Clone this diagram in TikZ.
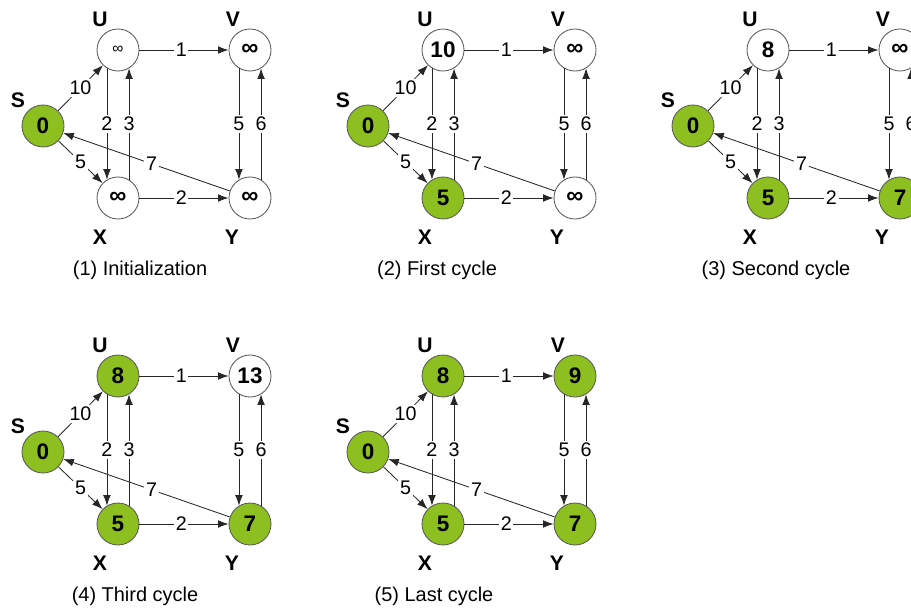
\documentclass[tikz,border=0pt]{standalone}
\usepackage{fontspec}
\setmainfont{Liberation Sans}
\usetikzlibrary{arrows.meta,calc}
\definecolor{vgreen}{RGB}{141,191,32}
\newcommand{\infsym}{{\fontsize{17}{18}\selectfont ∞}}
\newcommand{\infthin}{{\mdseries\fontsize{11}{12}\selectfont ∞}}
\tikzset{
  vert/.style={circle,draw=black!65,line width=0.6pt,minimum size=1.05cm,inner sep=0pt,font=\fontsize{16}{18}\selectfont\bfseries},
  vname/.style={font=\fontsize{15}{17}\selectfont\bfseries},
  wt/.style={fill=white,inner sep=1.2pt,font=\fontsize{14}{16}\selectfont},
  capt/.style={font=\fontsize{14.2}{16}\selectfont},
  link/.style={-{Latex[length=7.5pt,width=5.5pt]},line width=0.6pt,draw=black!85}
}
\begin{document}
\begin{tikzpicture}[x=0.025cm,y=-0.025cm]
   \useasboundingbox (0,0) rectangle (911,610);
   \clip (0,0) rectangle (911,610);
   \foreach \n/\px/\py/\vu/\vv/\vx/\vy/\fu/\fv/\fx/\fy/\cx/\capt in {
      1/0/0/\infthin/\infsym/\infsym/\infsym/white/white/white/white/140/(1) Initialization,
      2/325/0/10/\infsym/5/\infsym/white/white/vgreen/white/112/(2) First cycle,
      3/650/0/8/\infsym/5/7/white/white/vgreen/vgreen/126/(3) Second cycle,
      4/0/326/8/13/5/7/vgreen/white/vgreen/vgreen/135/(4) Third cycle,
      5/325/326/8/9/5/7/vgreen/vgreen/vgreen/vgreen/109/(5) Last cycle}
   {
   \begin{scope}[shift={(\px,\py)}]
      \node[vert,fill=vgreen] (S\n) at (43,126) {0};
      \node[vert,fill=\fu] (U\n) at (118,50) {\vu};
      \node[vert,fill=\fv] (V\n) at (250,50) {\vv};
      \node[vert,fill=\fx] (X\n) at (118,198) {\vx};
      \node[vert,fill=\fy] (Y\n) at (250,198) {\vy};
      \node[vname] (nS\n) at (18,100) {S};
      \node[vname] (nU\n) at (100,19) {U};
      \node[vname] (nV\n) at (233,19) {V};
      \node[vname] (nX\n) at (100,237) {X};
      \node[vname] (nY\n) at (232,237) {Y};
      \draw[link] (S\n) -- node[wt] {10} (U\n);
      \draw[link] (S\n) -- node[wt] {5} (X\n);
      \draw[link] (U\n) -- node[wt,pos=0.47] {1} (V\n);
      \draw[link] (X\n) -- node[wt,pos=0.47] {2} (Y\n);
      \draw[link] (U\n.-121) -- node[wt] {2} (X\n.121);
      \draw[link] (X\n.59) -- node[wt] {3} (U\n.-59);
      \draw[link] (V\n.-121) -- node[wt] {5} (Y\n.121);
      \draw[link] (Y\n.59) -- node[wt] {6} (V\n.-59);
      \draw[link] (Y\n) -- node[wt,pos=0.47] {7} (S\n);
      \node[capt] (cap\n) at (\cx,270) {\capt};
   \end{scope}
   }
\end{tikzpicture}
\end{document}
